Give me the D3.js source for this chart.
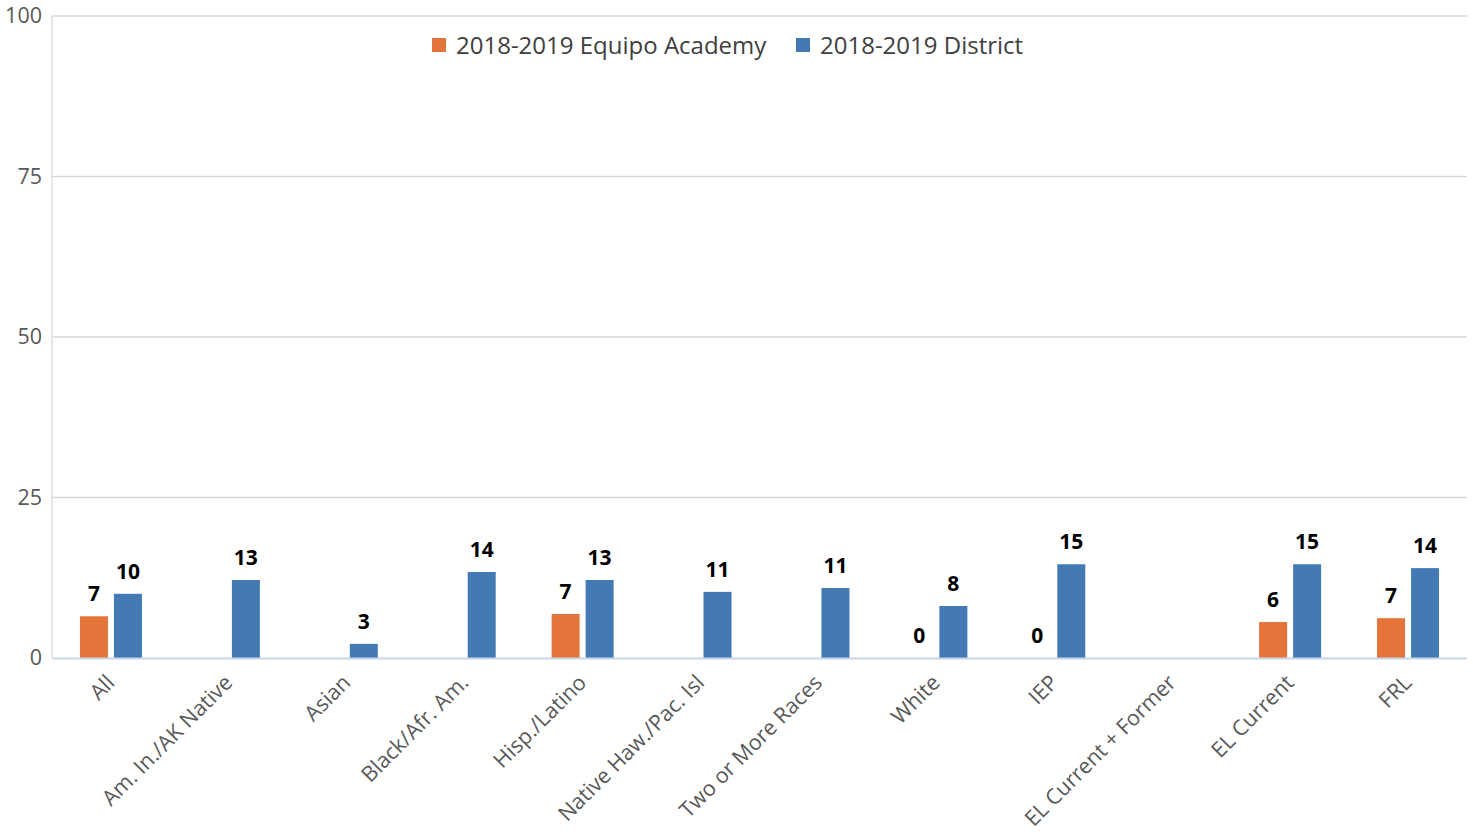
<!DOCTYPE html>
<html><head><meta charset="utf-8">
<script src="https://cdn.jsdelivr.net/npm/d3@7"></script>
<style>body{margin:0;background:#fff;font-family:"Open Sans",sans-serif;}</style>
</head><body><svg id="c" width="1473" height="838"></svg>
<script>
const categories = ["All","Am. In./AK Native","Asian","Black/Afr. Am.","Hisp./Latino","Native Haw./Pac. Isl","Two or More Races","White","IEP","EL Current + Former","EL Current","FRL"];
const seriesNames = ["2018-2019 Equipo Academy","2018-2019 District"];
const academyValues = [6.5,null,null,null,6.85,null,null,0,0,null,5.6,6.2];
const districtValues = [10.0,12.15,2.2,13.4,12.15,10.3,10.9,8.1,14.6,null,14.6,14.0];
const academyLabels = ["7",null,null,null,"7",null,null,"0","0",null,"6","7"];
const districtLabels = ["10","13","3","14","13","11","11","8","15",null,"15","14"];
const yTicks = [0,25,50,75,100];
const colors = ["#E4743A","#447AB4"];

const svg = d3.select("#c");
const L=52,R=1467,T=16,B=658;
const x = d3.scaleBand().domain(categories).range([L,R]);
const y = d3.scaleLinear().domain([0,100]).range([B,T]);
const bw=28, gap=6;

// gridlines
svg.append("g").selectAll("line").data(yTicks.filter(d=>d>0)).join("line")
  .attr("x1",L).attr("x2",R).attr("y1",d=>y(d)).attr("y2",d=>y(d))
  .attr("stroke","#d9d9d9").attr("stroke-width",1.3);
svg.append("line").attr("x1",L).attr("x2",L).attr("y1",T).attr("y2",B).attr("stroke","#d9d9d9").attr("stroke-width",1.3);

// y labels
const yAxis = d3.axisLeft(y).tickValues(yTicks).tickSize(0).tickPadding(10);
const gy = svg.append("g").attr("transform",`translate(${L},0)`).call(yAxis);
gy.select(".domain").remove();
gy.selectAll("text").attr("font-family","Open Sans").attr("font-size",21.5).attr("fill","#595959");

const series = [academyValues, districtValues];
const labels = [academyLabels, districtLabels];
series.forEach((vals,si)=>{
  const off = si===0 ? -gap/2-bw : gap/2;
  const data = categories.map((c,i)=>({c,v:vals[i],l:labels[si][i]}));
  svg.append("g").selectAll("rect").data(data.filter(d=>d.v!==null && d.v>0)).join("rect")
    .attr("x",d=>x(d.c)+x.bandwidth()/2+off).attr("width",bw)
    .attr("y",d=>y(d.v)).attr("height",d=>B-y(d.v)).attr("fill",colors[si]);
  svg.append("g").selectAll("text").data(data.filter(d=>d.v!==null)).join("text")
    .attr("x",d=>x(d.c)+x.bandwidth()/2+off+bw/2).attr("y",d=>y(d.v)-15)
    .attr("text-anchor","middle").attr("font-family","Open Sans").attr("font-weight","bold")
    .attr("font-size",21).attr("fill","#000").text(d=>d.l);
});

// baseline
svg.append("line").attr("x1",L).attr("x2",R).attr("y1",B+0.5).attr("y2",B+0.5).attr("stroke","#c9d5e8").attr("stroke-width",2);

// x labels
const xAxis = d3.axisBottom(x).tickSize(0).tickPadding(0);
const gx = svg.append("g").attr("transform",`translate(0,${B})`).call(xAxis);
gx.select(".domain").remove();
gx.selectAll("text").attr("font-family","Open Sans").attr("font-size",21.5).attr("fill","#595959")
  .attr("text-anchor","end").attr("dy",null).attr("y",0)
  .attr("transform","translate(5,26) rotate(-45)");

// legend
const lg = svg.append("g");
const lx=[432,796];
seriesNames.forEach((n,i)=>{
  lg.append("rect").attr("x",lx[i]).attr("y",38).attr("width",14).attr("height",14).attr("fill",colors[i]);
  lg.append("text").attr("x",lx[i]+24).attr("y",54).attr("font-family","Open Sans").attr("font-size",24).attr("fill","#404040").text(n);
});
</script></body></html>
